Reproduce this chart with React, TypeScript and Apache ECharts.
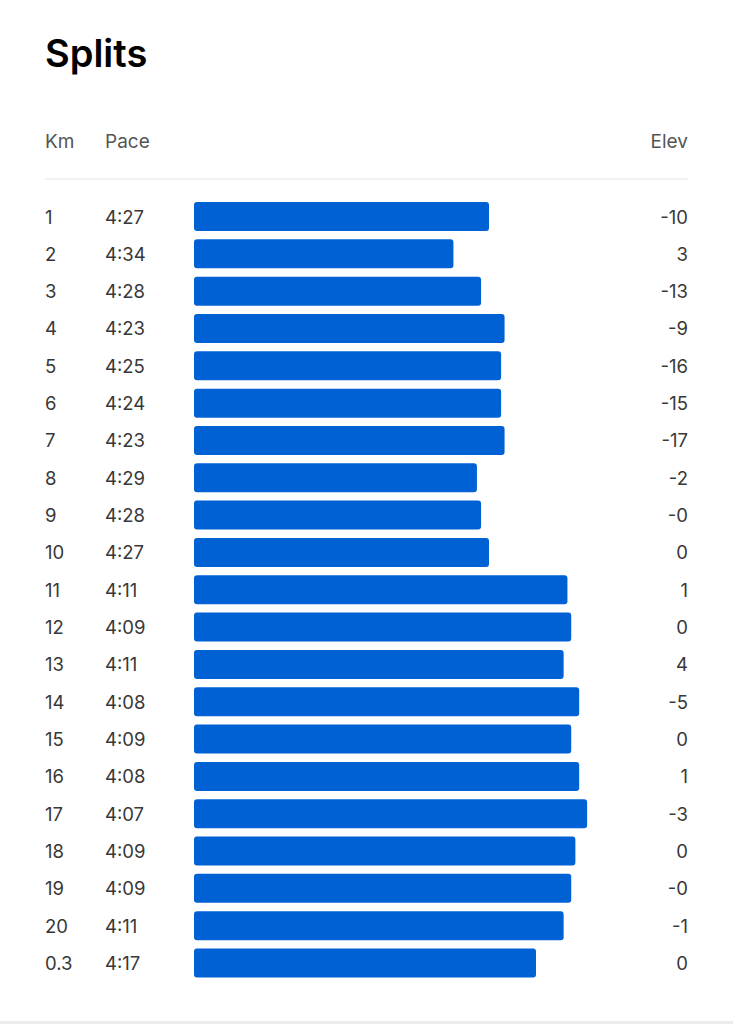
import React, { useEffect, useRef } from "react";
import * as echarts from "echarts";

const kmLabels = ["1", "2", "3", "4", "5", "6", "7", "8", "9", "10", "11", "12", "13", "14", "15", "16", "17", "18", "19", "20", "0.3"];
const paceLabels = ["4:27", "4:34", "4:28", "4:23", "4:25", "4:24", "4:23", "4:29", "4:28", "4:27", "4:11", "4:09", "4:11", "4:08", "4:09", "4:08", "4:07", "4:09", "4:09", "4:11", "4:17"];
const elevLabels = ["-10", "3", "-13", "-9", "-16", "-15", "-17", "-2", "-0", "0", "1", "0", "4", "-5", "0", "1", "-3", "0", "-0", "-1", "0"];
// average speed per split (m/s)
const speedValues = [3.754, 3.651, 3.731, 3.799, 3.789, 3.789, 3.799, 3.719, 3.731, 3.754, 3.981, 3.992, 3.970, 4.015, 3.992, 4.015, 4.038, 4.004, 3.992, 3.970, 3.890];
const speedMin = 2.9;
const speedMax = 4.33;

const FONT = "Inter, 'Noto Sans', sans-serif";

export default function App() {
  const ref = useRef<HTMLDivElement>(null);
  useEffect(() => {
    if (!ref.current) return;
    const chart = echarts.init(ref.current, null, { renderer: "svg" });
    const gridLeft = 194;
    const gridRight = 733 - 688;
    const rowPitch = 37.325;
    const gridTop = 216.5 - rowPitch / 2;
    const gridHeight = rowPitch * kmLabels.length;
    const baseAxis = {
      type: "category" as const,
      inverse: true,
      axisLine: { show: false },
      axisTick: { show: false },
      splitLine: { show: false },
    };
    const labelStyle = { fontSize: 18.5, color: "#383838", fontFamily: FONT };
    chart.setOption({
      animation: false,
      backgroundColor: "#ffffff",
      grid: { left: gridLeft, right: gridRight, top: gridTop, height: gridHeight, containLabel: false },
      xAxis: {
        type: "value",
        min: speedMin,
        max: speedMax,
        startValue: speedMin,
        show: false,
      },
      yAxis: [
        { ...baseAxis, position: "left", data: kmLabels, axisLabel: { ...labelStyle, margin: gridLeft - 45, align: "left" } },
        { ...baseAxis, position: "left", data: paceLabels, axisLabel: { ...labelStyle, margin: gridLeft - 105, align: "left" } },
        { ...baseAxis, position: "right", data: elevLabels, axisLabel: { ...labelStyle, margin: 0, align: "right" } },
      ],
      series: [
        {
          type: "bar",
          yAxisIndex: 0,
          data: speedValues,
          barWidth: 29,
          itemStyle: { color: "#0061d5", borderRadius: 3 },
          clip: false,
        },
      ],
      graphic: [
        { type: "text", x: 45, y: 52.5, style: { text: "Splits", font: `600 38px ${FONT}`, fill: "#000", textVerticalAlign: "middle", textAlign: "left" } },
        { type: "text", x: 45, y: 141, style: { text: "Km", font: `400 19px ${FONT}`, fill: "#555", textVerticalAlign: "middle", textAlign: "left" } },
        { type: "text", x: 105, y: 141, style: { text: "Pace", font: `400 19px ${FONT}`, fill: "#555", textVerticalAlign: "middle", textAlign: "left" } },
        { type: "text", x: 688, y: 141, style: { text: "Elev", font: `400 19px ${FONT}`, fill: "#555", textVerticalAlign: "middle", textAlign: "right" } },
        { type: "rect", shape: { x: 45, y: 178.5, width: 643, height: 1 }, style: { fill: "#e3e3e3" } },
        { type: "rect", shape: { x: 0, y: 1021, width: 733, height: 3 }, style: { fill: "#ececec" } },
      ],
    });
    return () => chart.dispose();
  }, []);
  return <div ref={ref} style={{ position: "absolute", left: 0, top: 0, width: 733, height: 1024 }} />;
}
